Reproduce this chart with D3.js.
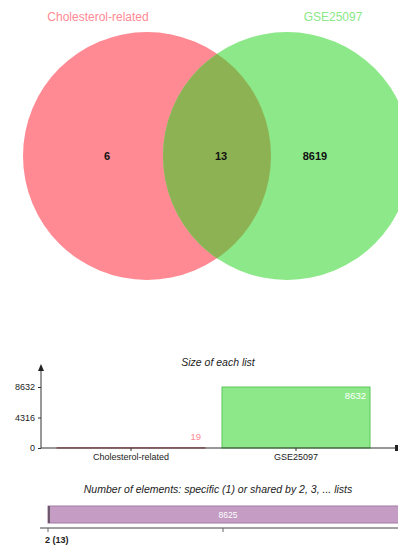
<!DOCTYPE html>
<html>
<head>
<meta charset="utf-8">
<script src="https://cdn.jsdelivr.net/npm/d3@7/dist/d3.min.js"></script>
<style>
  html, body { margin: 0; padding: 0; background: #fff; }
  svg { display: block; font-family: "Liberation Sans", Arial, sans-serif; }
</style>
</head>
<body>
<svg id="chart" width="398" height="548"></svg>
<script>
// Two lists compared in the Venn diagram
const setNames = ["Cholesterol-related", "GSE25097"];
const setColors = ["#ff8a94", "#8ce888"];
const overlapColor = "#8db253";
// Region counts: only first list, shared, only second list
const regionCounts = [6, 13, 8619];
// Total size of each list
const listSizes = [19, 8632];
const sizeTicks = [0, 4316, 8632];
// Elements specific to one list or shared by several
const sharedLabels = ["2 (13)"];
const sharedValues = [8625];

const svg = d3.select("#chart");

// ---------- Venn diagram ----------
const r = 124;
const cy = 156;
const centers = [147, 287];

const defs = svg.append("defs");
defs.append("clipPath").attr("id", "clipA")
  .append("circle").attr("cx", centers[0]).attr("cy", cy).attr("r", r);

svg.selectAll("circle.set")
  .data(setNames)
  .join("circle")
  .attr("class", "set")
  .attr("cx", (d, i) => centers[i])
  .attr("cy", cy)
  .attr("r", r)
  .attr("fill", (d, i) => setColors[i]);

// shared lens
svg.append("circle")
  .attr("cx", centers[1]).attr("cy", cy).attr("r", r)
  .attr("clip-path", "url(#clipA)")
  .attr("fill", overlapColor);

svg.selectAll("text.setname")
  .data(setNames)
  .join("text")
  .attr("class", "setname")
  .attr("x", (d, i) => [98, 333][i])
  .attr("y", 21)
  .attr("text-anchor", "middle")
  .attr("font-size", 12)
  .attr("fill", (d, i) => setColors[i])
  .text(d => d);

const regionX = [107, 221, 315];
svg.selectAll("text.region")
  .data(regionCounts)
  .join("text")
  .attr("class", "region")
  .attr("x", (d, i) => regionX[i])
  .attr("y", cy + 4)
  .attr("text-anchor", "middle")
  .attr("font-size", 11)
  .attr("font-weight", "bold")
  .attr("fill", "#111")
  .text(d => d);

// ---------- Size of each list ----------
const axisX = 41, baseY = 448;
const y = d3.scaleLinear().domain([0, 8632]).range([baseY, 387]);
const x = d3.scaleBand().domain(setNames).range([57, 370]).paddingInner(17 / 165).paddingOuter(0);

svg.append("text")
  .attr("x", 218).attr("y", 366)
  .attr("text-anchor", "middle")
  .attr("font-size", 10.5)
  .attr("font-style", "italic")
  .attr("fill", "#222")
  .text("Size of each list");

const barStroke = ["#b8404e", "#5cc85c"];
svg.selectAll("rect.size")
  .data(listSizes)
  .join("rect")
  .attr("class", "size")
  .attr("x", (d, i) => x(setNames[i]))
  .attr("width", x.bandwidth())
  .attr("y", d => y(d))
  .attr("height", d => baseY - y(d))
  .attr("fill", (d, i) => setColors[i])
  .attr("stroke", (d, i) => barStroke[i])
  .attr("stroke-width", 1);

svg.selectAll("text.sizeval")
  .data(listSizes)
  .join("text")
  .attr("class", "sizeval")
  .attr("x", (d, i) => x(setNames[i]) + x.bandwidth() - 4)
  .attr("y", d => d > 4316 ? y(d) + 12 : y(d) - 8)
  .attr("text-anchor", "end")
  .attr("font-size", 9.5)
  .attr("fill", (d, i) => d > 4316 ? "#fff" : setColors[i])
  .text(d => d);

// y axis with arrow
const yAxis = d3.axisLeft(y).tickValues(sizeTicks).tickFormat(d3.format("d")).tickSize(3).tickPadding(3);
const gy = svg.append("g").attr("transform", `translate(${axisX},0)`).call(yAxis);
gy.select(".domain").remove();
gy.selectAll("text").attr("font-size", 9).attr("fill", "#222").attr("font-family", "Liberation Sans, Arial, sans-serif");
gy.selectAll("line").attr("stroke", "#333");
svg.append("line").attr("x1", axisX).attr("x2", axisX).attr("y1", baseY).attr("y2", 370)
  .attr("stroke", "#333").attr("stroke-width", 1);
svg.append("path").attr("d", `M${axisX - 3},${371} L${axisX},${364} L${axisX + 3},${371} Z`).attr("fill", "#222");

// x axis with arrow
const xAxis = d3.axisBottom(x).tickSize(3).tickPadding(3);
const gx = svg.append("g").attr("transform", `translate(0,${baseY})`).call(xAxis);
gx.select(".domain").remove();
gx.selectAll("text").attr("font-size", 9).attr("fill", "#222").attr("font-family", "Liberation Sans, Arial, sans-serif");
gx.selectAll("line").attr("stroke", "#333");
svg.append("line").attr("x1", axisX).attr("x2", 396).attr("y1", baseY).attr("y2", baseY)
  .attr("stroke", "#333").attr("stroke-width", 1.2);
svg.append("rect").attr("x", 395).attr("y", baseY - 3).attr("width", 4).attr("height", 6).attr("fill", "#222");

// ---------- Shared elements ----------
svg.append("text")
  .attr("x", 218).attr("y", 493)
  .attr("text-anchor", "middle")
  .attr("font-size", 10.5)
  .attr("font-style", "italic")
  .attr("fill", "#222")
  .text("Number of elements: specific (1) or shared by 2, 3, ... lists");

const sx = d3.scaleLinear().domain([0, 8625]).range([48, 408]);
svg.selectAll("rect.shared")
  .data(sharedValues)
  .join("rect")
  .attr("class", "shared")
  .attr("x", sx(0))
  .attr("y", 506)
  .attr("width", d => sx(d) - sx(0))
  .attr("height", 17)
  .attr("fill", "#c49cc4")
  .attr("stroke", "#a07ca0")
  .attr("stroke-width", 1);
svg.append("line").attr("x1", sx(0) + 1).attr("x2", sx(0) + 1).attr("y1", 506).attr("y2", 523)
  .attr("stroke", "#554455").attr("stroke-width", 1.5);

svg.selectAll("text.sharedval")
  .data(sharedValues)
  .join("text")
  .attr("class", "sharedval")
  .attr("x", d => (sx(0) + 408) / 2)
  .attr("y", 518)
  .attr("text-anchor", "middle")
  .attr("font-size", 8.5)
  .attr("fill", "#fff")
  .text(d => d);

svg.append("line").attr("x1", 40).attr("x2", 398).attr("y1", 528).attr("y2", 528)
  .attr("stroke", "#444").attr("stroke-width", 1.2);
[sx(0), 223].forEach(t => {
  svg.append("line").attr("x1", t).attr("x2", t).attr("y1", 528).attr("y2", 532)
    .attr("stroke", "#666").attr("stroke-width", 1);
});
svg.selectAll("text.sharedlab")
  .data(sharedLabels)
  .join("text")
  .attr("class", "sharedlab")
  .attr("x", 45)
  .attr("y", 543)
  .attr("font-size", 9)
  .attr("font-weight", "bold")
  .attr("fill", "#222")
  .text(d => d);
</script>
</body>
</html>
